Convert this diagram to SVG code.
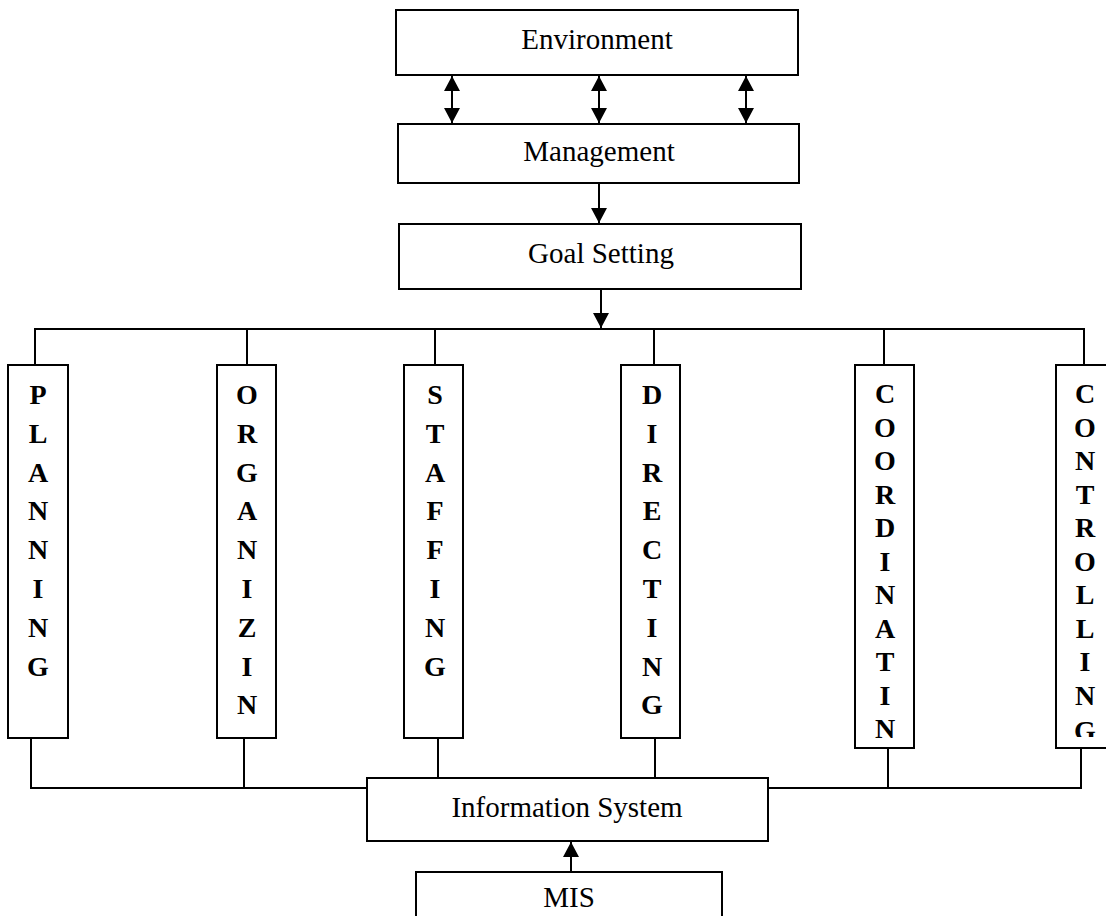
<svg xmlns="http://www.w3.org/2000/svg" width="1106" height="916" viewBox="0 0 1106 916">
  <style>
    .box { fill: #fff; stroke: #000; stroke-width: 2; }
    .line { fill: none; stroke: #000; stroke-width: 2; }
    .label { font-family: "Liberation Serif", "Times New Roman", serif; font-size: 29px; fill: #000; text-anchor: middle; }
    .vert { font-family: "Liberation Serif", "Times New Roman", serif; font-size: 28px; font-weight: bold; fill: #000; text-anchor: middle; }
  </style>
  <defs>
    <marker id="arrow" markerUnits="userSpaceOnUse" markerWidth="15" markerHeight="16" refX="15" refY="8" orient="auto-start-reverse">
      <path d="M0,0 L15,8 L0,16 z" fill="#000"/>
    </marker>
    <clipPath id="clip-controlling">
      <rect x="1056" y="365" width="60" height="372"/>
    </clipPath>
  </defs>
  <rect width="1106" height="916" fill="#fff"/>

  <!-- connectors -->
  <g id="connectors">
    <line class="line" x1="452" y1="76" x2="452" y2="123" marker-start="url(#arrow)" marker-end="url(#arrow)"/>
    <line class="line" x1="599" y1="76" x2="599" y2="123" marker-start="url(#arrow)" marker-end="url(#arrow)"/>
    <line class="line" x1="746" y1="76" x2="746" y2="123" marker-start="url(#arrow)" marker-end="url(#arrow)"/>
    <line class="line" x1="599" y1="184" x2="599" y2="223" marker-end="url(#arrow)"/>
    <line class="line" x1="601" y1="290" x2="601" y2="328" marker-end="url(#arrow)"/>
    <!-- distribution bus -->
    <polyline class="line" points="35,365 35,329 1084,329 1084,365"/>
    <line class="line" x1="247" y1="329" x2="247" y2="365"/>
    <line class="line" x1="435" y1="329" x2="435" y2="365"/>
    <line class="line" x1="654" y1="329" x2="654" y2="365"/>
    <line class="line" x1="884" y1="329" x2="884" y2="365"/>
    <!-- collection bus -->
    <polyline class="line" points="31,738 31,788 367,788"/>
    <line class="line" x1="244" y1="738" x2="244" y2="788"/>
    <line class="line" x1="438" y1="738" x2="438" y2="777"/>
    <line class="line" x1="655" y1="738" x2="655" y2="777"/>
    <polyline class="line" points="768,788 1081,788 1081,748"/>
    <line class="line" x1="888" y1="748" x2="888" y2="788"/>
    <line class="line" x1="571" y1="872" x2="571" y2="842" marker-end="url(#arrow)"/>
  </g>

  <g id="environment">
    <rect class="box" x="396" y="10" width="402" height="65"/>
    <text class="label" x="597" y="49">Environment</text>
  </g>
  <g id="management">
    <rect class="box" x="398" y="124" width="401" height="59"/>
    <text class="label" x="599" y="161">Management</text>
  </g>
  <g id="goal-setting">
    <rect class="box" x="399" y="224" width="402" height="65"/>
    <text class="label" x="601" y="263">Goal Setting</text>
  </g>

  <g id="planning">
    <rect class="box" x="8" y="365" width="60" height="373"/>
    <text class="vert">
      <tspan x="38" y="404">P</tspan><tspan x="38" y="442.8">L</tspan><tspan x="38" y="481.6">A</tspan><tspan x="38" y="520.4">N</tspan><tspan x="38" y="559.2">N</tspan><tspan x="38" y="598">I</tspan><tspan x="38" y="636.8">N</tspan><tspan x="38" y="675.6">G</tspan>
    </text>
  </g>
  <g id="organizing">
    <rect class="box" x="217" y="365" width="59" height="373"/>
    <text class="vert">
      <tspan x="247" y="404">O</tspan><tspan x="247" y="442.8">R</tspan><tspan x="247" y="481.6">G</tspan><tspan x="247" y="520.4">A</tspan><tspan x="247" y="559.2">N</tspan><tspan x="247" y="598">I</tspan><tspan x="247" y="636.8">Z</tspan><tspan x="247" y="675.6">I</tspan><tspan x="247" y="714.4">N</tspan>
    </text>
  </g>
  <g id="staffing">
    <rect class="box" x="404" y="365" width="59" height="373"/>
    <text class="vert">
      <tspan x="435" y="404">S</tspan><tspan x="435" y="442.8">T</tspan><tspan x="435" y="481.6">A</tspan><tspan x="435" y="520.4">F</tspan><tspan x="435" y="559.2">F</tspan><tspan x="435" y="598">I</tspan><tspan x="435" y="636.8">N</tspan><tspan x="435" y="675.6">G</tspan>
    </text>
  </g>
  <g id="directing">
    <rect class="box" x="621" y="365" width="59" height="373"/>
    <text class="vert">
      <tspan x="652" y="404">D</tspan><tspan x="652" y="442.8">I</tspan><tspan x="652" y="481.6">R</tspan><tspan x="652" y="520.4">E</tspan><tspan x="652" y="559.2">C</tspan><tspan x="652" y="598">T</tspan><tspan x="652" y="636.8">I</tspan><tspan x="652" y="675.6">N</tspan><tspan x="652" y="714.4">G</tspan>
    </text>
  </g>
  <g id="coordinating">
    <rect class="box" x="855" y="365" width="59" height="383"/>
    <text class="vert">
      <tspan x="885" y="403">C</tspan><tspan x="885" y="436.5">O</tspan><tspan x="885" y="470">O</tspan><tspan x="885" y="503.5">R</tspan><tspan x="885" y="537">D</tspan><tspan x="885" y="570.5">I</tspan><tspan x="885" y="604">N</tspan><tspan x="885" y="637.5">A</tspan><tspan x="885" y="671">T</tspan><tspan x="885" y="704.5">I</tspan><tspan x="885" y="738">N</tspan>
    </text>
  </g>
  <g id="controlling">
    <rect class="box" x="1056" y="365" width="60" height="383"/>
    <text class="vert" clip-path="url(#clip-controlling)">
      <tspan x="1085" y="403">C</tspan><tspan x="1085" y="436.5">O</tspan><tspan x="1085" y="470">N</tspan><tspan x="1085" y="503.5">T</tspan><tspan x="1085" y="537">R</tspan><tspan x="1085" y="570.5">O</tspan><tspan x="1085" y="604">L</tspan><tspan x="1085" y="637.5">L</tspan><tspan x="1085" y="671">I</tspan><tspan x="1085" y="704.5">N</tspan><tspan x="1085" y="740">G</tspan>
    </text>
  </g>

  <g id="information-system">
    <rect class="box" x="367" y="778" width="401" height="63"/>
    <text class="label" x="567" y="817">Information System</text>
  </g>
  <g id="mis">
    <rect class="box" x="416" y="872" width="306" height="60"/>
    <text class="label" x="569" y="907">MIS</text>
  </g>
</svg>
